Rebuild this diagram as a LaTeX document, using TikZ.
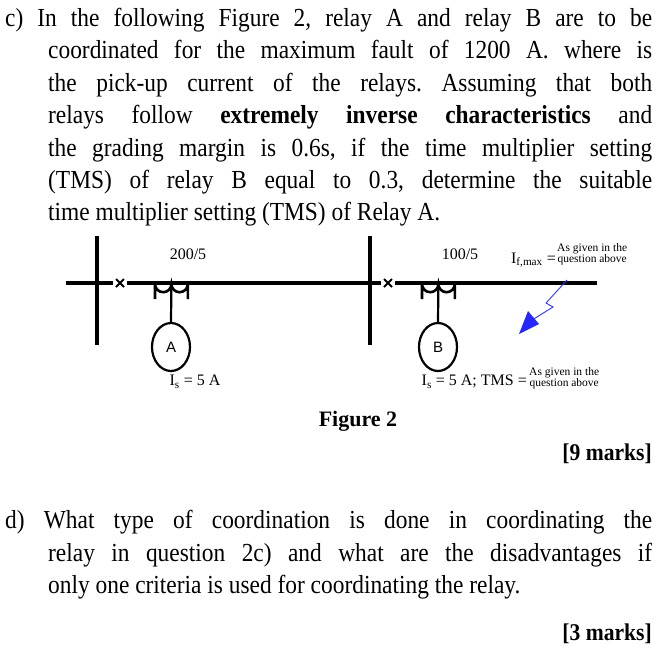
\documentclass[tikz,border=0pt]{standalone}
\usepackage{fontspec}
\setmainfont[FakeStretch=0.9]{Liberation Serif}
\newfontfamily\dia{Liberation Serif}
\setsansfont{Liberation Sans}
\usetikzlibrary{shapes.geometric}
\begin{document}
\frenchspacing
\begin{tikzpicture}[x=1pt,y=-1pt,
  txt/.style={anchor=base west,inner sep=0,font=\fontsize{26}{30}\selectfont},
  mk/.style={anchor=base east,inner sep=0,font=\fontsize{24}{28}\selectfont\bfseries},
  line/.style={line width=3.4pt},
  lbl/.style={inner sep=0,font=\dia\fontsize{16}{18}\selectfont},
  note/.style={inner sep=0,align=center,font=\dia\fontsize{11.5}{11}\selectfont},
  relay/.style={draw,line width=2.2pt,ellipse,minimum width=38pt,minimum height=48pt,inner sep=0,font=\sffamily\fontsize{15}{16}\selectfont}]
\useasboundingbox (0,0) rectangle (661,649);
\fill[white] (0,0) rectangle (661,649);
% text
\node[txt] (l1) at (5,26) {\hbox to 647pt{c) In the following Figure 2, relay A and relay B are to be}};
\node[txt] (l2) at (48,58) {\hbox to 604pt{coordinated for the maximum fault of 1200 A. where is}};
\node[txt] (l3) at (48,91) {\hbox to 604pt{the pick-up current of the relays. Assuming that both}};
\node[txt] (l4) at (48,123) {\hbox to 604pt{relays follow \textbf{extremely inverse characteristics} and}};
\node[txt] (l5) at (48,156) {\hbox to 604pt{the grading margin is 0.6s, if the time multiplier setting}};
\node[txt] (l6) at (48,188) {\hbox to 604pt{(TMS) of relay B equal to 0.3, determine the suitable}};
\node[txt] (l7) at (48,220) {time multiplier setting (TMS) of Relay A.};
\node[mk] (m1) at (652,460) {[9 marks]};
\node[txt] (d1) at (5,528) {\hbox to 647pt{d) What type of coordination is done in coordinating the}};
\node[txt] (d2) at (48,561) {\hbox to 604pt{relay in question 2c) and what are the disadvantages if}};
\node[txt] (d3) at (48,593) {only one criteria is used for coordinating the relay.};
\node[mk] (m2) at (652,640) {[3 marks]};
% diagram
\coordinate (b1t) at (97,236); \coordinate (b1b) at (97,345);
\coordinate (b2t) at (370,236); \coordinate (b2b) at (370,345);
\draw[line] (b1t) -- (b1b);
\draw[line] (b2t) -- (b2b);
\coordinate (s1) at (66,283); \coordinate (xa) at (120,283);
\coordinate (xb) at (388,283); \coordinate (e) at (597,283);
\draw[line] (s1) -- (113,283);
\draw[line] (127,283) -- (b2b |- s1);
\draw[line] (b2b |- s1) -- (381,283);
\draw[line] (395,283) -- (e);
\foreach \c in {xa,xb}{\draw[line width=2pt] ([shift={(-4,-4)}]\c) -- ([shift={(4,4)}]\c) ([shift={(-4,4)}]\c) -- ([shift={(4,-4)}]\c);}
% CTs
\foreach \x in {155,422}{
 \draw[line width=2.6pt] (\x,299) -- (\x,284) arc[start angle=180,end angle=0,radius=8.2] arc[start angle=180,end angle=0,radius=8.2] -- (\x+32.8,299);
}
\node[relay] (A) at (171,347) {A};
\node[relay] (B) at (438,347) {B};
\draw[line width=2.2pt] (171.4,283) -- (A.north);
\draw[line width=2.2pt] (438.4,283) -- (B.north);
\node[lbl] (r1) at (188,254) {200/5};
\node[lbl] (r2) at (460,254) {100/5};
\node[lbl,anchor=east] (If) at (556,260) {I\textsubscript{f,max} =};
\node[note,anchor=west] (n1) at (557,254) {As given in the\\question above};
\node[lbl] (IsA) at (195,382) {I\textsubscript{s} = 5 A};
\node[lbl,anchor=east] (IsB) at (527,382) {I\textsubscript{s} = 5 A; TMS =};
\node[note,anchor=west] (n2) at (529,378) {As given in the\\question above};
\node[inner sep=0,font=\dia\fontsize{22}{26}\selectfont\bfseries] (fig) at (358,421) {Figure 2};
% lightning
\coordinate (f0) at (567,280);
\draw[blue!80!white,line width=0.9pt] (f0) -- (546,303) -- (553,307) -- (532,320);
\fill[blue!85!white] (519,334) -- (528,311) -- (539,324) -- cycle;
\end{tikzpicture}
\end{document}
